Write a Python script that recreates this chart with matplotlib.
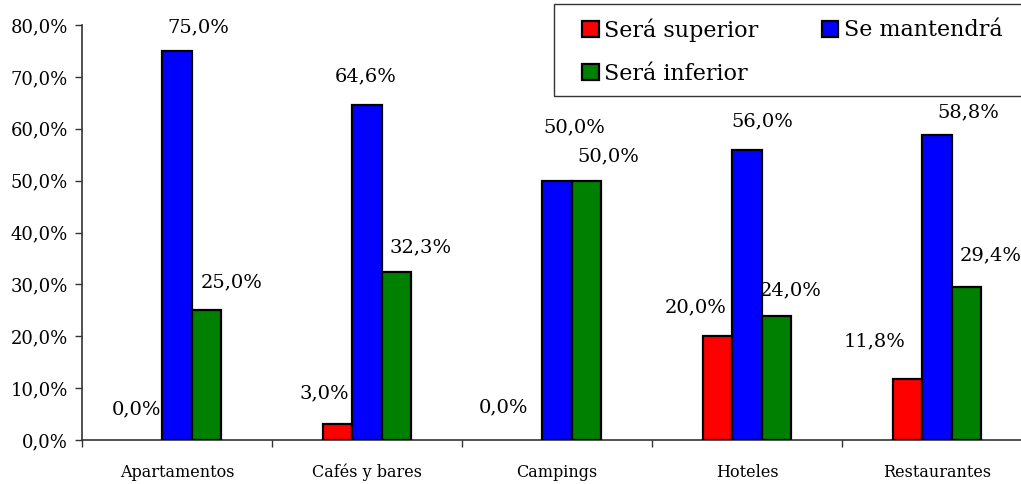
import numpy as np
import matplotlib
matplotlib.use("Agg")
import matplotlib.pyplot as plt
from matplotlib.ticker import FuncFormatter, FixedLocator
from matplotlib.patches import Patch, Rectangle

plt.rcParams['font.family'] = ['DejaVu Serif']

categorias = ['Apartamentos', 'Cafés y bares', 'Campings', 'Hoteles', 'Restaurantes']
series = ['Será superior', 'Se mantendrá', 'Será inferior']
superior = [0.0, 3.0, 0.0, 20.0, 11.8]
mantendra = [75.0, 64.6, 50.0, 56.0, 58.8]
inferior = [25.0, 32.3, 50.0, 24.0, 29.4]
colores = ['#FF0000', '#0000FF', '#008000']

# label offsets (pixels) from each bar top, as placed in the original
offs = [
    [(-11, 31), (-14, 31), (-24, 33), (-22, 29), (-33, 37)],
    [(21, 24), (-1, 29), (17, 53), (15, 28), (31, 23)],
    [(26, 28), (24, 25), (22, 24), (15, 25), (25, 32)],
]

fig = plt.figure(figsize=(10.21, 4.84), dpi=100)
ax = fig.add_axes([82/1021, 44/484, 950/1021, 415/484])

x = np.arange(len(categorias))
w = 0.153
datos = [superior, mantendra, inferior]
for i, (vals, nombre, c) in enumerate(zip(datos, series, colores)):
    pos = x + (i - 1) * w
    lw = [1.6 if v > 0 else 0 for v in vals]
    ax.bar(pos, vals, w, color=c, edgecolor='black', linewidth=lw,
           label=nombre, zorder=3)
    for j, v in enumerate(vals):
        dx, dy = offs[i][j]
        ax.annotate(('%.1f%%' % v).replace('.', ','), (pos[j], v),
                    xytext=(dx, dy), textcoords='offset pixels',
                    ha='center', va='center', fontsize=14, clip_on=False)

ax.set_xlim(-0.5, len(categorias) - 0.5)
ax.set_ylim(0, 80)
ax.set_yticks(np.arange(0, 81, 10))
ax.yaxis.set_major_formatter(FuncFormatter(lambda v, p: ('%.1f%%' % v).replace('.', ',')))
ax.set_xticks(x)
ax.set_xticklabels(categorias, fontsize=11.5)
ax.xaxis.set_minor_locator(FixedLocator(np.arange(-0.5, len(categorias), 1)))
ax.tick_params(axis='x', which='major', length=0, pad=17)
ax.tick_params(axis='x', which='minor', length=5, width=1, direction='out', color='#333333')
ax.tick_params(axis='y', length=5, width=1, color='#333333', labelsize=13, pad=5)
for s in ['top', 'right']:
    ax.spines[s].set_visible(False)
for s in ['left', 'bottom']:
    ax.spines[s].set_color('#333333')
    ax.spines[s].set_linewidth(1.2)

# legend box runs off the right edge in the original, so draw it by hand
fig.patches.append(Rectangle((554/1021, 1 - 96/484), 500/1021, 92/484,
                             transform=fig.transFigure, facecolor='white',
                             edgecolor='#333333', linewidth=1.0, zorder=5))

# legend filled by column: superior / inferior, then mantendra
orden = [0, 2, 1]
handles = [Patch(facecolor=colores[k], edgecolor='black', linewidth=1.6) for k in orden]
leg = fig.legend(handles, [series[k] for k in orden], loc='upper left',
                 bbox_to_anchor=(582/1021, 1 - 18/484), ncol=2,
                 fontsize=16, frameon=False,
                 handlelength=0.75, handleheight=0.75, handletextpad=0.25,
                 columnspacing=2.85, borderpad=0, labelspacing=0.95,
                 borderaxespad=0)
leg.set_zorder(6)

fig.savefig('out.png', dpi=100)
